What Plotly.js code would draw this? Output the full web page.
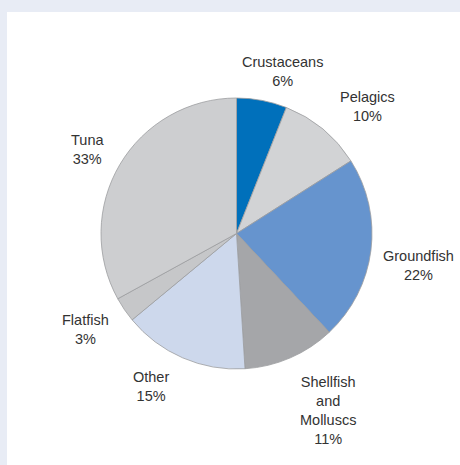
<!DOCTYPE html>
<html>
<head>
<meta charset="utf-8">
<script src="https://cdn.plot.ly/plotly-3.0.1.min.js"></script>
<style>
  html, body { margin: 0; padding: 0; background: #e8ecf5; }
  #chart { width: 460px; height: 465px; }
</style>
</head>
<body>
<div id="chart"></div>
<script>
// Share of catch by species group, clockwise from 12 o'clock
const categories = ['Crustaceans', 'Pelagics', 'Groundfish', 'Shellfish<br>and<br>Molluscs', 'Other', 'Flatfish', 'Tuna'];
const shares = [6, 10, 22, 11, 15, 3, 33];
const sliceColors = ['#0070bb', '#d2d3d5', '#6694ce', '#a5a6a9', '#cdd8ec', '#c6c7c9', '#cdced0'];

const W = 460, H = 465;
// pie geometry in pixels (margins are zero, so paper coords = px / size)
const CX = 236.5, CY = 233.5, RAD = 135.5;
const LABEL_RADIUS = 175;
// small hand offsets (px) that move each label off its slice's centre line
const labelNudge = [[13, 10], [19, 8], [8, 10], [22, 16], [-16, -8], [-6, -2], [2, 5]];

const trace = {
  type: 'pie',
  labels: categories,
  values: shares,
  sort: false,
  direction: 'clockwise',
  rotation: 0,
  marker: { colors: sliceColors, line: { color: '#9c9da0', width: 0.8 } },
  textinfo: 'none',
  hoverinfo: 'none',
  showlegend: false,
  domain: { x: [(CX - RAD) / W, (CX + RAD) / W], y: [(H - CY - RAD) / H, (H - CY + RAD) / H] }
};

// Category labels sit outside the pie on each slice's mid-angle
const total = shares.reduce((a, b) => a + b, 0);
let cum = 0;
const annotations = shares.map((v, i) => {
  const mid = (cum + v / 2) / total * 2 * Math.PI;
  cum += v;
  const px = CX + LABEL_RADIUS * Math.sin(mid) + labelNudge[i][0];
  const py = CY - LABEL_RADIUS * Math.cos(mid) + labelNudge[i][1];
  return {
    xref: 'paper', yref: 'paper',
    x: px / W, y: 1 - py / H,
    xanchor: 'center', yanchor: 'middle',
    showarrow: false, align: 'center',
    text: categories[i] + '<br>' + v + '%',
    font: { family: 'Liberation Sans, Arial, sans-serif', size: 14.5, color: '#333333' }
  };
});

const layout = {
  width: W,
  height: H,
  margin: { l: 0, r: 0, t: 0, b: 0 },
  paper_bgcolor: '#e8ecf5',
  showlegend: false,
  annotations: annotations,
  shapes: [{
    type: 'rect', xref: 'paper', yref: 'paper', layer: 'below',
    x0: 7 / W, x1: 1, y0: 0, y1: 1 - 12 / H,
    fillcolor: '#ffffff', line: { width: 0 }
  }]
};

Plotly.newPlot('chart', [trace], layout, { displayModeBar: false, staticPlot: true });
</script>
</body>
</html>
